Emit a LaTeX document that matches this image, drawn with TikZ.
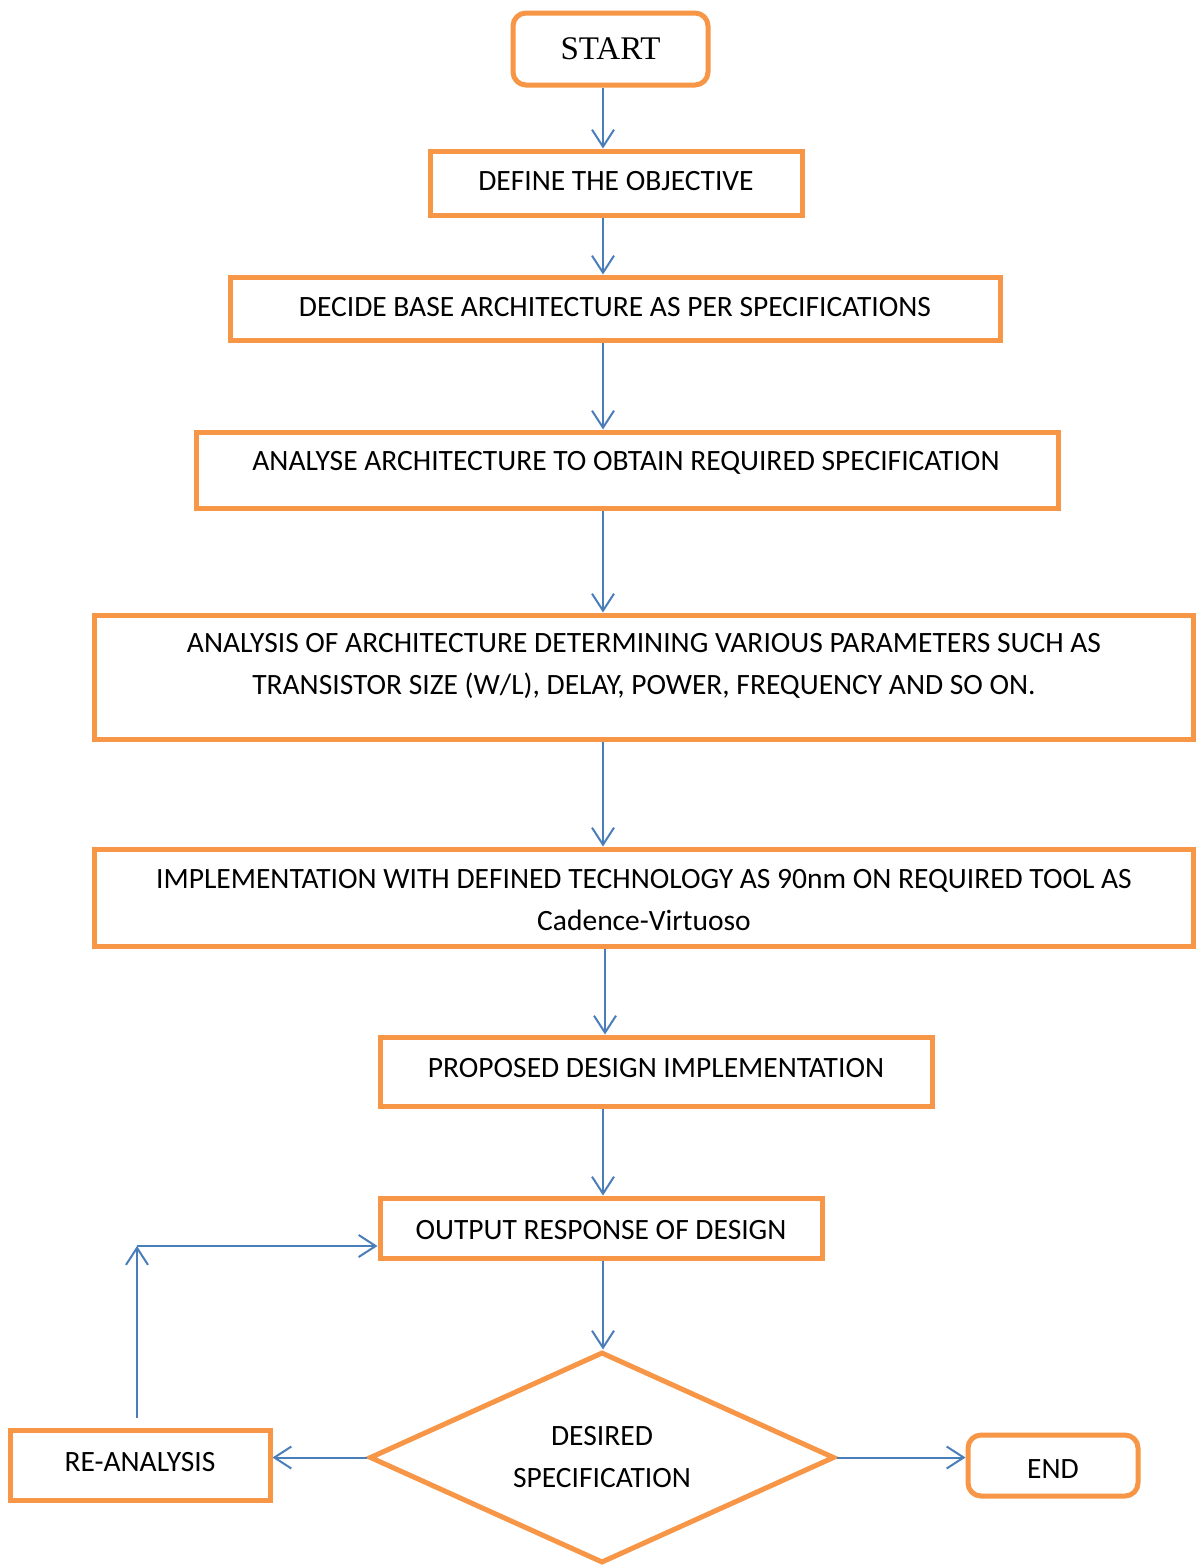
\documentclass[tikz,border=0pt]{standalone}
\usepackage{fontspec}
\setmainfont{Carlito}
\newfontfamily\startfont{Liberation Serif}
\usetikzlibrary{shapes.geometric,arrows.meta}
\definecolor{boxorange}{HTML}{F79646}
\definecolor{lineblue}{HTML}{4A7EBB}
\tikzset{
  box/.style={draw=boxorange, line width=5pt, fill=white, inner sep=0pt, align=center},
  rbox/.style={box, rounded corners=13pt},
  txt/.style={inner sep=0pt, align=center},
  arr/.style={draw=lineblue, line width=2pt, -{Straight Barb[length=17pt,width=22pt,line width=2pt]}},
  ln/.style={draw=lineblue, line width=2pt}
}
\begin{document}
\begin{tikzpicture}[x=1pt,y=-1pt, font=\fontsize{29.5}{42}\selectfont]
\useasboundingbox (0,0) rectangle (1195,1566);
\fill[white] (0,0) rectangle (1195,1566);
\coordinate (ax) at (603,0);
\coordinate (bx) at (605,0);
% nodes
\node[rbox, minimum width=195pt, minimum height=72pt] (start) at (610.5,49) {\startfont\fontsize{33}{40}\selectfont START};
\node[box, minimum width=372pt, minimum height=64pt] (def) at (616,183) {};
\node[txt] at (616,181) {DEFINE THE OBJECTIVE};
\node[box, minimum width=770pt, minimum height=63pt] (dec) at (615,308.5) {};
\node[txt] at (615,307) {DECIDE BASE ARCHITECTURE AS PER SPECIFICATIONS};
\node[box, minimum width=862pt, minimum height=76pt] (ana) at (627,470) {};
\node[txt] at (626,463) {ANALYSE ARCHITECTURE TO OBTAIN REQUIRED SPECIFICATION};
\node[box, minimum width=1099pt, minimum height=124pt] (par) at (643.5,677) {};
\node[txt] at (644,666) {ANALYSIS OF ARCHITECTURE DETERMINING VARIOUS PARAMETERS SUCH AS\\TRANSISTOR SIZE (W/L), DELAY, POWER, FREQUENCY AND SO ON.};
\node[box, minimum width=1099pt, minimum height=97pt] (imp) at (643.5,897.5) {};
\node[txt] at (644,900) {IMPLEMENTATION WITH DEFINED TECHNOLOGY AS 90nm ON REQUIRED TOOL AS\\Cadence-Virtuoso};
\node[box, minimum width=552pt, minimum height=69pt] (pro) at (656,1071.5) {};
\node[txt] at (656,1068) {PROPOSED DESIGN IMPLEMENTATION};
\node[box, minimum width=442pt, minimum height=60pt] (out) at (601,1228) {};
\node[txt] at (601,1230) {OUTPUT RESPONSE OF DESIGN};
\node[diamond, draw=boxorange, line width=5pt, inner sep=0pt, aspect=2.2, minimum width=465pt, minimum height=211pt, align=center] (des) at (602,1457.5) {DESIRED\\SPECIFICATION};
\node[box, minimum width=260pt, minimum height=70pt] (re) at (140,1465) {};
\node[txt] at (140,1462) {RE-ANALYSIS};
\node[rbox, minimum width=170pt, minimum height=61pt] (end) at (1053,1465.5) {};
\node[txt] at (1053,1469) {END};
\coordinate (corner) at (137,1246);
% connectors
\draw[arr] (start.south -| ax) -- (def.north -| ax);
\draw[arr] (def.south -| ax) -- (dec.north -| ax);
\draw[arr] (dec.south -| ax) -- (ana.north -| ax);
\draw[arr] (ana.south -| ax) -- (par.north -| ax);
\draw[arr] (par.south -| ax) -- (imp.north -| ax);
\draw[arr] (imp.south -| bx) -- (pro.north -| bx);
\draw[arr] (pro.south -| ax) -- (out.north -| ax);
\draw[arr] (out.south -| ax) -- (des.north -| ax);
\draw[arr] (des.west) -- (re.east |- des.west);
\draw[arr] (des.east) -- (end.west |- des.east);
\draw[arr] ([yshift=10pt]re.north -| corner) -- (corner);
\draw[arr] (corner) -- (corner -| out.west);
\end{tikzpicture}
\end{document}
